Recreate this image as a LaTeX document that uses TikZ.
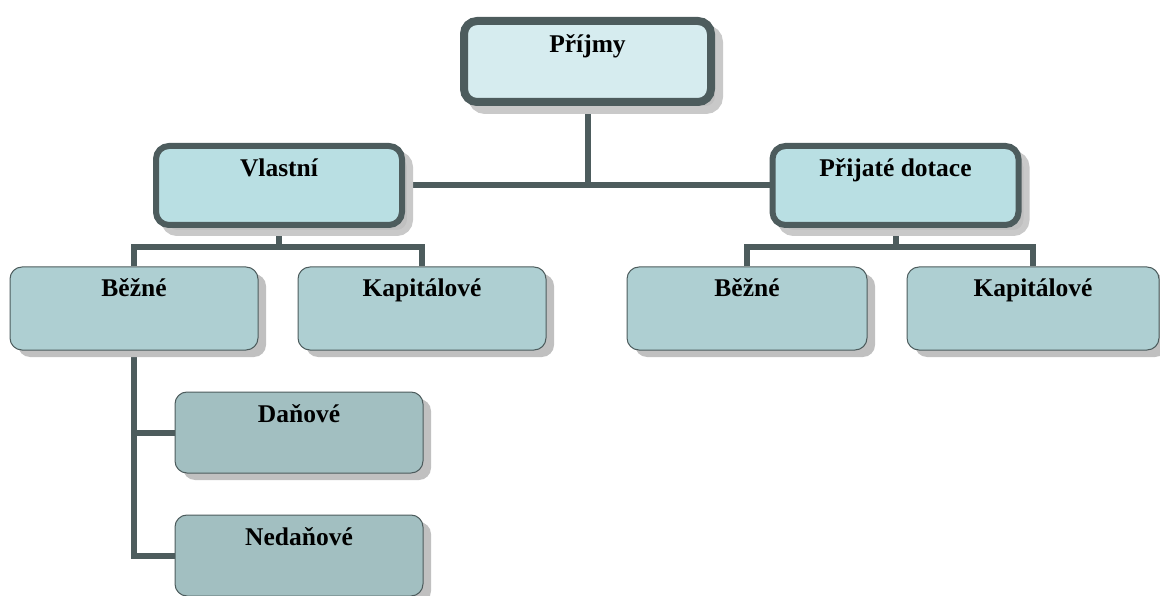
\documentclass[tikz,border=0pt]{standalone}
\usepackage{fontspec}
\setmainfont{Liberation Serif}
\usetikzlibrary{shadows,backgrounds}
\definecolor{edgec}{HTML}{4D5C5D}
\definecolor{topfill}{HTML}{D6ECEF}
\definecolor{midfill}{HTML}{B9DFE3}
\definecolor{lowfill}{HTML}{AECFD2}
\definecolor{leaffill}{HTML}{A2BFC1}
\definecolor{shadowc}{HTML}{C0C0C0}
\tikzset{
  lbl/.style={font=\fontsize{25.5}{30}\selectfont\bfseries, inner sep=0pt, align=center},
  thickbox/.style={lbl, draw=edgec, rounded corners=13pt,
    drop shadow={shadow xshift=8pt, shadow yshift=-8pt, opacity=1, fill=shadowc, draw=shadowc!85, line width=#1}},
  topbox/.style={thickbox=8pt, line width=8pt, fill=topfill, minimum width=247pt, minimum height=81pt, text height=32pt, text depth=49pt},
  midbox/.style={thickbox=6pt, line width=6pt, fill=midfill, minimum width=246pt, minimum height=79pt, text height=31pt, text depth=48pt},
  lowbox/.style={lbl, draw=edgec, line width=1pt, rounded corners=12pt, fill=lowfill,
    minimum height=83pt, text height=30pt, text depth=53pt,
    drop shadow={shadow xshift=8pt, shadow yshift=-7pt, opacity=1, fill=shadowc}},
  leafbox/.style={lowbox, fill=leaffill, minimum width=248pt, minimum height=81pt, text height=30pt, text depth=51pt},
  conn/.style={draw=edgec, line width=6pt}
}
\begin{document}
\begin{tikzpicture}[x=1pt,y=-1pt]
\useasboundingbox (0,0) rectangle (1160,596);
\node[topbox] (prijmy) at (587.5,61.5) {Příjmy};
\node[midbox] (vlastni) at (279,185.5) {Vlastní};
\node[midbox] (dotace) at (895.5,185.5) {Přijaté dotace};
\node[lowbox, minimum width=248pt] (beznel) at (134,308.5) {Běžné};
\node[lowbox, minimum width=248pt] (kapl) at (422,308.5) {Kapitálové};
\node[lowbox, minimum width=240pt] (bezner) at (747,308.5) {Běžné};
\node[lowbox, minimum width=252pt] (kapr) at (1033,308.5) {Kapitálové};
\node[leafbox] (danove) at (299,432.5) {Daňové};
\node[leafbox] (nedanove) at (299,555.5) {Nedaňové};
\coordinate (vlbus) at (279,247);
\coordinate (dobus) at (895.5,247);
\begin{scope}[on background layer]
\draw[conn] (vlastni.east) -- (dotace.west);
\draw[conn] (prijmy.south) -- (prijmy.south |- vlastni.east);
\draw[conn] (vlastni.south) -- (vlbus);
\draw[conn] (beznel.north) -- (beznel.north |- vlbus) -- (kapl.north |- vlbus) -- (kapl.north);
\draw[conn] (dotace.south) -- (dobus);
\draw[conn] (bezner.north) -- (bezner.north |- dobus) -- (kapr.north |- dobus) -- (kapr.north);
\draw[conn] (beznel.south) -- (beznel.south |- nedanove.west) -- (nedanove.west);
\draw[conn] (beznel.south |- danove.west) -- (danove.west);
\end{scope}
\end{tikzpicture}
\end{document}
